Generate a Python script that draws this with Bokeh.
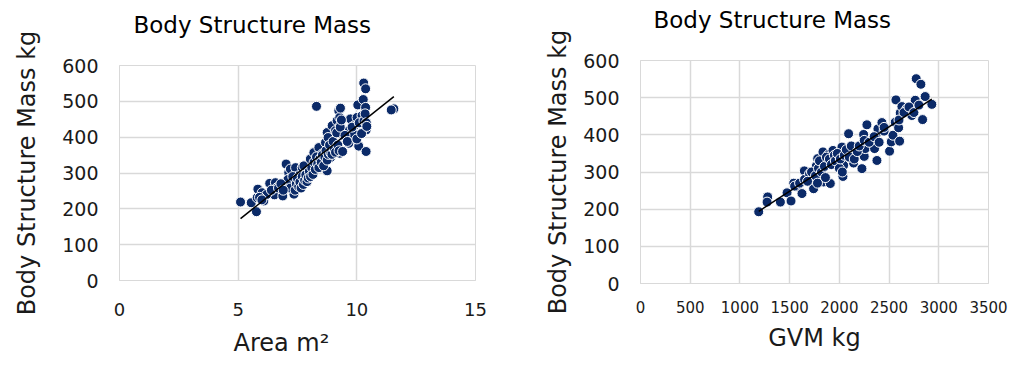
import numpy as np
from bokeh.plotting import figure
from bokeh.layouts import row, column
from bokeh.models import FixedTicker, Range1d, Title
from bokeh.embed import file_html
from bokeh.resources import INLINE

# ---------------- data ----------------
area_m2 = [5.10, 5.55, 5.77, 5.80, 5.83, 6.08, 6.01, 6.33, 6.57, 6.64, 6.53, 6.88,
           7.02, 6.99, 7.13, 7.20, 7.35, 7.35, 7.42, 7.53, 7.63, 7.70, 7.77, 8.12,
           8.04, 8.19, 8.30, 8.40, 8.47, 8.54, 8.68, 8.75, 8.79, 8.75, 8.89, 8.96,
           9.03, 9.10, 9.17, 9.24, 9.28, 9.31, 9.28, 9.31, 9.45, 9.66, 9.66, 9.73,
           9.87, 9.90, 10.01, 10.04, 10.08, 10.22, 10.27, 10.29, 10.37, 10.37, 10.39,
           10.39, 11.56, 11.45,
           7.00, 7.10, 7.20, 7.30, 7.40, 7.45, 7.50, 7.55, 7.60, 7.65, 7.70, 7.75,
           7.80, 7.85, 7.90, 7.95, 8.00, 8.05, 8.10, 8.15, 8.20, 8.25, 8.30, 8.35,
           8.40, 8.45, 8.50, 8.55, 8.60, 8.65, 8.70, 8.75, 8.80, 8.85, 8.90, 8.95,
           9.00, 9.05, 9.10, 9.15, 9.20, 9.25, 9.30, 9.35, 9.40, 9.50, 9.60, 9.80,
           10.00, 10.10, 10.20, 10.30, 10.35, 10.40, 10.42, 6.20, 6.40, 6.70, 6.80,
           6.90, 5.90, 6.00]
mass_area = [219, 217, 192, 231, 255, 222, 245, 271, 273, 259, 239, 236,
             325, 273, 301, 311, 241, 273, 315, 292, 269, 315, 320, 297,
             339, 357, 486, 371, 334, 353, 385, 413, 399, 306, 343, 432,
             371, 418, 446, 474, 455, 481, 355, 432, 404, 383, 418, 451,
             409, 432, 455, 490, 375, 460, 505, 551, 535, 483, 420,
             360, 479, 476,
             272, 282, 258, 290, 252, 270, 285, 262, 275, 258, 290, 268,
             280, 295, 276, 286, 305, 290, 315, 296, 330, 310, 345, 325,
             315, 340, 330, 350, 320, 345, 362, 336, 352, 378, 356, 352,
             388, 366, 358, 412, 378, 362, 428, 448, 360, 405, 388, 428,
             395, 440, 410, 445, 465, 440, 430, 240, 252, 258, 270,
             252, 232, 225]

gvm_kg = [1189, 1279, 1273, 1407, 1474, 1514, 1541, 1581, 1624, 1648, 1691, 1725,
          1741, 1768, 1782, 1835, 1842, 1875, 1892, 1909, 1936, 1993, 2026, 2036,
          2043, 2060, 2093, 2127, 2143, 2160, 2227, 2244, 2250, 2277, 2261, 2354,
          2368, 2378, 2388, 2428, 2505, 2522, 2539, 2562, 2569, 2596, 2606, 2612,
          2629, 2679, 2729, 2763, 2773, 2820, 2837, 2863, 2930,
          1550, 1600, 1650, 1700, 1720, 1760, 1790, 1800, 1820, 1850, 1870, 1900,
          1920, 1950, 1960, 1980, 2000, 2010, 2030, 2050, 2070, 2100, 2120, 2150,
          2180, 2200, 2250, 2300, 2350, 2400, 2450, 2600, 2650, 2700, 2750, 2800,
          2450, 1860, 1780, 1680]
mass_gvm = [193, 233, 219, 219, 244, 222, 270, 260, 242, 303, 287, 273,
            255, 316, 336, 354, 273, 325, 347, 269, 358, 342, 367, 288,
            318, 354, 403, 351, 324, 367, 309, 401, 342, 427, 363, 363,
            399, 331, 416, 433, 356, 381, 399, 434, 494, 419, 383, 459,
            476, 470, 452, 493, 551, 536, 441, 503, 482,
            262, 270, 280, 295, 300, 290, 310, 330, 300, 315, 340, 335,
            320, 345, 330, 350, 310, 335, 300, 345, 360, 340, 370, 335,
            355, 370, 385, 380, 395, 380, 410, 440, 460, 475, 460, 480,
            420, 285, 270, 275]

title_text = "Body Structure Mass"
y_label = "Body Structure Mass kg"
x_label_left = "Area m²"
x_label_right = "GVM kg"
y_ticks = [0, 100, 200, 300, 400, 500, 600]
x_ticks_left = [0, 5, 10, 15]
x_ticks_right = [0, 500, 1000, 1500, 2000, 2500, 3000, 3500]

NAVY = "#0B2A68"
GRID = "#D9D9D9"
TXT = "#1A1A1A"
FONT = "DejaVu Sans"


def make(xs, ys, xticks, width, height, bl, br, bt, bb, title_off, gap, xtick_size,
         xtick_standoff, ylab_standoff):
    p = figure(width=width, height=height, output_backend="svg", toolbar_location=None,
               title=None,
               x_range=Range1d(xticks[0], xticks[-1]), y_range=Range1d(0, 600),
               min_border_left=bl, min_border_right=br, min_border_top=bt,
               min_border_bottom=bb)
    # spacer between the frame and the chart title
    p.add_layout(Title(text=" ", text_font_size="1px", standoff=gap), "above")
    p.add_layout(Title(text=title_text, align="left", offset=title_off, standoff=0,
                       text_font=FONT, text_font_size="23px",
                       text_font_style="normal", text_color="#000000"), "above")
    p.outline_line_color = GRID
    p.background_fill_color = "white"
    p.border_fill_color = "white"
    for ax in (p.xaxis[0], p.yaxis[0]):
        ax.axis_line_color = GRID
        ax.major_tick_line_color = None
        ax.minor_tick_line_color = None
        ax.major_tick_out = 0
        ax.major_tick_in = 0
        ax.major_label_text_font = FONT
        ax.major_label_text_color = TXT
        ax.axis_label_text_font = FONT
        ax.axis_label_text_font_style = "normal"
        ax.axis_label_text_color = TXT
        ax.axis_label_text_font_size = "24px"
    p.xaxis.ticker = FixedTicker(ticks=xticks)
    p.yaxis.ticker = FixedTicker(ticks=y_ticks)
    p.xaxis.major_label_text_font_size = xtick_size
    p.yaxis.major_label_text_font_size = "19px"
    p.xaxis.major_label_standoff = xtick_standoff
    p.yaxis.major_label_standoff = 21
    p.yaxis.axis_label = y_label
    p.yaxis.axis_label_standoff = ylab_standoff
    p.xgrid.grid_line_color = GRID
    p.ygrid.grid_line_color = GRID
    p.xgrid.grid_line_width = 1.5
    p.ygrid.grid_line_width = 1.5

    p.scatter(xs, ys, size=10, fill_color=NAVY, line_color="white", line_width=1)
    # linear trend line (least squares), spanning the data range
    k, b = np.polyfit(xs, ys, 1)
    tx = [min(xs), max(xs)]
    p.line(tx, [k * t + b for t in tx], line_color="black", line_width=1.5)
    return p


# left: frame 119..475 x 65..280
left = make(area_m2, mass_area, x_ticks_left, 500, 364, 119, 25, 65, 84, 14, 25,
            "18px", 22, 18)
xl = Title(text=x_label_left, align="left", offset=114, standoff=16,
           text_font=FONT, text_font_size="24px", text_font_style="normal",
           text_color=TXT)
left.add_layout(xl, "below")

# right: frame 640..988 x 60..283
right = make(gvm_kg, mass_gvm, x_ticks_right, 518, 360, 140, 30, 60, 77, 13, 25,
             "15px", 17, 8)
right.xaxis.axis_label = x_label_right
right.xaxis.axis_label_standoff = 8

layout = row(column(left), column(right))
open("out.html", "w").write(file_html(layout, INLINE))
